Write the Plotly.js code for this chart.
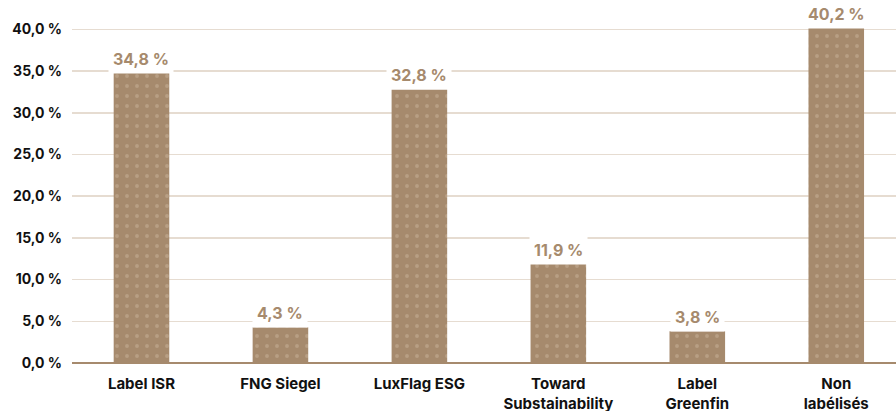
<!DOCTYPE html>
<html><head><meta charset="utf-8">
<script src="https://cdn.plot.ly/plotly-3.0.1.min.js"></script>
<style>html,body{margin:0;padding:0;background:#fff}#chart{width:896px;height:411px}</style>
</head><body><div id="chart"></div>
<script>
const categories = ["Label ISR", "FNG Siegel", "LuxFlag ESG", "Toward<br>Substainability", "Label<br>Greenfin", "Non<br>labélisés"];
const values = [34.8, 4.3, 32.8, 11.9, 3.8, 40.2];
const tickValues = [0, 5, 10, 15, 20, 25, 30, 35, 40];

const barColor = "#a68a6d";
const fmt = v => v.toFixed(1).replace('.', ',') + ' %';
const FONT = 'Inter, sans-serif';

const trace = {
  type: 'bar', x: categories, y: values, width: 0.4,
  marker: {color: barColor, line: {width: 0},
    pattern: {shape: '.', fgcolor: '#b89f84', bgcolor: barColor, size: 10, solidity: 0.12}},
  hoverinfo: 'none'
};

const annotations = categories.map((c, i) => ({
  x: c, y: values[i], xref: 'x', yref: 'y', text: '<b>' + fmt(values[i]) + '</b>',
  showarrow: false, yanchor: 'bottom', yshift: -1,
  font: {family: FONT, size: 16, color: barColor},
  bgcolor: '#ffffff', borderpad: 4
}));

const layout = {
  width: 896, height: 411,
  margin: {l: 72, r: 0, t: 21, b: 48},
  paper_bgcolor: '#fff', plot_bgcolor: '#fff',
  showlegend: false,
  xaxis: {range: [-0.5, 5.43], showgrid: false, zeroline: false, showline: false, ticks: '',
    tickfont: {family: FONT, size: 15, color: '#111'}, ticklabelstandoff: 10},
  yaxis: {range: [0, 41], tickvals: tickValues,
    showgrid: true, gridcolor: '#e6dcd1', gridwidth: 1.5,
    zeroline: true, zerolinecolor: '#a68a6d', zerolinewidth: 2,
    tickfont: {family: FONT, size: 14, color: '#111'}, ticks: '', ticklabelstandoff: 9},
  annotations: annotations,
  font: {family: FONT}
};
layout.yaxis.ticktext = tickValues.map(v => '<b>' + fmt(v) + '</b>');
layout.xaxis.tickvals = categories;
layout.xaxis.ticktext = categories.map(c => '<b>' + c + '</b>');

Plotly.newPlot('chart', [trace], layout, {displayModeBar: false, staticPlot: true});
</script></body></html>
